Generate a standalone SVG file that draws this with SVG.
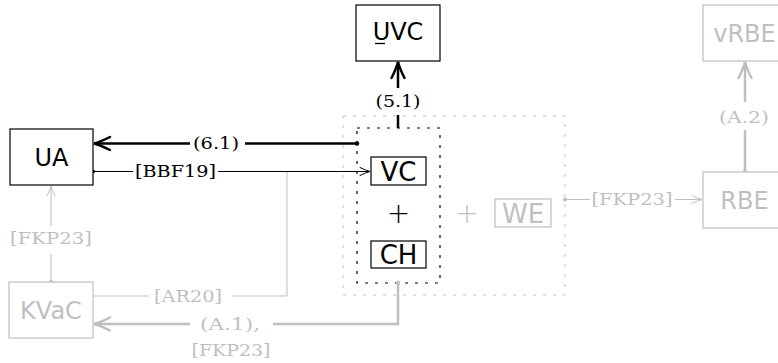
<svg xmlns="http://www.w3.org/2000/svg" width="778" height="363" viewBox="0 0 778 363">
<style>
.box{fill:#fff;stroke:#000;stroke-width:1.2}
.gbox{fill:#fff;stroke:#bfbfbf;stroke-width:1.2}
.node{font-family:"DejaVu Sans",sans-serif;font-size:24px;text-anchor:middle;fill:#000}
.snode{font-family:"DejaVu Sans",sans-serif;font-size:26px;text-anchor:middle;fill:#000}
.plus{font-family:"DejaVu Sans",sans-serif;font-size:28px;font-weight:200;text-anchor:middle;fill:#000}
.gray{fill:#bfbfbf}
.lbl{font-family:"DejaVu Serif",serif;font-size:16px;text-anchor:middle;fill:#000}
.glbl{font-family:"DejaVu Serif",serif;font-size:16px;text-anchor:middle;fill:#bfbfbf}
.thick{fill:none;stroke:#000;stroke-width:2.5}
.gthick{fill:none;stroke:#bfbfbf;stroke-width:2.5}
.thin{fill:none;stroke:#000;stroke-width:1}
.gthin{fill:none;stroke:#bfbfbf;stroke-width:1}
.dot{fill:#000}
.gdot{fill:#bfbfbf}
</style>
<defs>
<marker id="hThick" markerUnits="userSpaceOnUse" markerWidth="24" markerHeight="24" refX="0" refY="0" viewBox="-20 -10 24 20" orient="auto" overflow="visible">
<path d="M-16,-6.5 Q-6,-1.5 0,0 Q-6,1.5 -16,6.5" fill="none" stroke="#000" stroke-width="2.5" stroke-linecap="round"/>
</marker>
<marker id="hThickG" markerUnits="userSpaceOnUse" markerWidth="24" markerHeight="24" refX="0" refY="0" viewBox="-20 -10 24 20" orient="auto" overflow="visible">
<path d="M-16,-6.5 Q-6,-1.5 0,0 Q-6,1.5 -16,6.5" fill="none" stroke="#bfbfbf" stroke-width="2.5" stroke-linecap="round"/>
</marker>
<marker id="hThin" markerUnits="userSpaceOnUse" markerWidth="14" markerHeight="14" refX="0" refY="0" viewBox="-12 -6 14 12" orient="auto" overflow="visible">
<path d="M-10,-4 Q-4,-1 0,0 Q-4,1 -10,4" fill="none" stroke="#000" stroke-width="1" stroke-linecap="round"/>
</marker>
<marker id="hThinG" markerUnits="userSpaceOnUse" markerWidth="14" markerHeight="14" refX="0" refY="0" viewBox="-12 -6 14 12" orient="auto" overflow="visible">
<path d="M-10,-4 Q-4,-1 0,0 Q-4,1 -10,4" fill="none" stroke="#bfbfbf" stroke-width="1" stroke-linecap="round"/>
</marker>
</defs>

<g id="groupBoxes">
<rect id="outerBox" x="343" y="116" width="222" height="179" fill="none" stroke="#bfbfbf" stroke-width="1" stroke-dasharray="3 7"/>
<rect id="innerBox" x="357" y="128" width="83" height="155" fill="none" stroke="#000" stroke-width="1.2" stroke-dasharray="3 7"/>
</g>

<g id="connectors">
<!-- (6.1) -->
<path class="thick" d="M357,143.5 H245"/>
<path class="thick" d="M190,143.5 H94" marker-end="url(#hThick)"/>
<circle class="dot" cx="357" cy="143.5" r="2.2"/>
<text class="lbl" x="216" y="149" textLength="46" lengthAdjust="spacingAndGlyphs">(6.1)</text>
<!-- (5.1) -->
<path class="thick" d="M398,128 V115"/>
<path class="thick" d="M398,88 V62" marker-end="url(#hThick)"/>
<text class="lbl" x="398" y="107" textLength="45" lengthAdjust="spacingAndGlyphs">(5.1)</text>
<!-- [BBF19] -->
<path class="thin" d="M93,171.5 H133"/>
<path class="thin" d="M218,171.5 H370" marker-end="url(#hThin)"/>
<circle class="dot" cx="93" cy="171.5" r="2"/>
<text class="lbl" x="175.5" y="177" textLength="81" lengthAdjust="spacingAndGlyphs">[BBF19]</text>
<!-- [AR20] -->
<path class="gthin" d="M287,172 V296 H232"/>
<path class="gthin" d="M149,296 H93"/>
<text class="glbl" x="188" y="301.5" textLength="68" lengthAdjust="spacingAndGlyphs">[AR20]</text>
<!-- (A.1), [FKP23] -->
<path class="gthick" d="M398,283 V324 H273"/>
<path class="gthick" d="M190,324 H94" marker-end="url(#hThickG)"/>
<circle class="gdot" cx="398" cy="283" r="2.2"/>
<text class="glbl" x="230" y="329.5" textLength="60" lengthAdjust="spacingAndGlyphs">(A.1),</text>
<text class="glbl" x="231" y="355.5" textLength="79" lengthAdjust="spacingAndGlyphs">[FKP23]</text>
<!-- [FKP23] KVaC -> UA -->
<path class="gthin" d="M51,282 V254"/>
<path class="gthin" d="M51,226 V186" marker-end="url(#hThinG)"/>
<circle class="gdot" cx="51" cy="282" r="2"/>
<text class="glbl" x="51" y="243.5" textLength="82" lengthAdjust="spacingAndGlyphs">[FKP23]</text>
<!-- [FKP23] outer -> RBE -->
<path class="gthin" d="M565,199.5 H590"/>
<path class="gthin" d="M675,199.5 H702" marker-end="url(#hThinG)"/>
<circle class="gdot" cx="565" cy="199.5" r="2"/>
<text class="glbl" x="632" y="205" textLength="81" lengthAdjust="spacingAndGlyphs">[FKP23]</text>
<!-- (A.2) -->
<path class="gthick" d="M745,172 V130"/>
<path class="gthick" d="M745,102 V62" marker-end="url(#hThickG)"/>
<circle class="gdot" cx="745" cy="172" r="2.2"/>
<text class="glbl" x="744" y="122.5" textLength="50" lengthAdjust="spacingAndGlyphs">(A.2)</text>
</g>

<g id="UA">
<rect class="box" x="10" y="129" width="83" height="56"/>
<text class="node" x="51.5" y="165.5">UA</text>
</g>
<g id="UVC">
<rect class="box" x="356" y="5" width="84" height="56"/>
<text class="node" x="398" y="39.5">UVC</text>
<line x1="375" y1="43.5" x2="385" y2="43.5" stroke="#000" stroke-width="1.3"/>
</g>
<g id="VC">
<rect class="box" x="371" y="157" width="55" height="28"/>
<text class="snode" x="398.5" y="180.5">VC</text>
</g>
<g id="plus1">
<text class="plus" x="398.5" y="223">+</text>
</g>
<g id="CH">
<rect class="box" x="371" y="241" width="55" height="27"/>
<text class="snode" x="398.5" y="264">CH</text>
</g>
<g id="plus2">
<text class="plus gray" x="467" y="223">+</text>
</g>
<g id="WE">
<rect class="gbox" x="495" y="199" width="56" height="28"/>
<text class="snode gray" x="523" y="222.5">WE</text>
</g>
<g id="KVaC">
<rect class="gbox" x="9" y="282" width="84" height="56"/>
<text class="node gray" x="51" y="318.5">KVaC</text>
</g>
<g id="RBE">
<rect class="gbox" x="703" y="172" width="84" height="56"/>
<text class="node gray" x="744.5" y="208.5">RBE</text>
</g>
<g id="vRBE">
<rect class="gbox" x="703" y="5" width="84" height="56"/>
<text class="node gray" x="744.5" y="41.5">vRBE</text>
</g>
</svg>
